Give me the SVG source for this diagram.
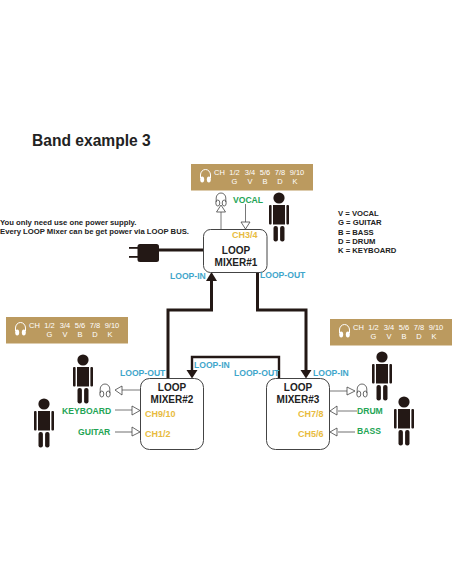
<svg xmlns="http://www.w3.org/2000/svg" width="452" height="584" viewBox="0 0 452 584">
<style>
text{font-family:"Liberation Sans",Arial,sans-serif;font-weight:700}
.panel{fill:#bb9a5f}
.pt{fill:#fff;font-size:7.5px;text-anchor:middle;font-weight:400}
.box{fill:#fff;stroke:#444;stroke-width:1}
.name{fill:#222;font-size:10px;text-anchor:middle}
.ch{fill:#e8bb40;font-size:9px}
.loop{fill:#3fa6cb;font-size:8.6px}
.inp{fill:#23a455;font-size:8.6px}
.note{fill:#222;font-size:7.7px}
.thick{fill:none;stroke:#231815;stroke-width:3}
.thin{fill:none;stroke:#555;stroke-width:.8}
.tri{fill:#fff;stroke:#444;stroke-width:.8}
.hp{fill:none;stroke:#444;stroke-width:.8}
</style>
<defs>
<g id="person" fill="#231815">
<circle cx="0" cy="0" r="5.6"/>
<rect x="-6" y="7" width="12" height="19.5"/>
<rect x="-10" y="7" width="2.6" height="19.5" rx="1"/>
<rect x="7.4" y="7" width="2.6" height="19.5" rx="1"/>
<rect x="-5.5" y="28" width="4.4" height="15.5" rx="2"/>
<rect x="1.1" y="28" width="4.4" height="15.5" rx="2"/>
</g>
<g id="phones">
<path class="hp" d="M-4.8 3V-1A4.8 5 0 0 1 4.8-1V3"/>
<ellipse class="hp" cx="-3.2" cy="4" rx="2" ry="3"/>
<ellipse class="hp" cx="3.2" cy="4" rx="2" ry="3"/>
</g>
<g id="wphones">
<path fill="none" stroke="#fff" stroke-width="1" d="M-5 2V-1A5 5.500 0 0 1 5-1V2"/>
<ellipse fill="#fff" cx="-3.300" cy="3.500" rx="2" ry="3"/>
<ellipse fill="#fff" cx="3.300" cy="3.500" rx="2" ry="3"/>
</g>
<g id="legend">
<rect class="panel" x="0" y="0" width="122" height="26.500"/>
<use href="#wphones" x="14.500" y="12"/>
<text class="pt" x="28.500" y="10.500">CH</text>
<text class="pt" x="43.500" y="10.500">1/2</text>
<text class="pt" x="59" y="10.500">3/4</text>
<text class="pt" x="74" y="10.500">5/6</text>
<text class="pt" x="89" y="10.500">7/8</text>
<text class="pt" x="106" y="10.500">9/10</text>
<text class="pt" x="43.500" y="20">G</text>
<text class="pt" x="59" y="20">V</text>
<text class="pt" x="74" y="20">B</text>
<text class="pt" x="89" y="20">D</text>
<text class="pt" x="104" y="20">K</text>
</g>
</defs>
<rect width="452" height="584" fill="#fff"/>
<text id="title" x="32" y="146" font-size="15.600" fill="#222">Band example 3</text>
<g id="note">
<text class="note" x="0" y="225">You only need use one power supply.</text>
<text class="note" x="0" y="234">Every LOOP Mixer can be get power via LOOP BUS.</text>
</g>
<g id="key">
<text class="note" x="338" y="216">V = VOCAL</text>
<text class="note" x="338" y="225">G = GUITAR</text>
<text class="note" x="338" y="234.500">B = BASS</text>
<text class="note" x="338" y="243.500">D = DRUM</text>
<text class="note" x="338" y="252.500">K = KEYBOARD</text>
</g>
<g id="legend-top"><use href="#legend" x="191" y="164"/></g>
<g id="legend-left"><use href="#legend" x="6" y="317"/></g>
<g id="legend-right"><use href="#legend" x="330" y="319"/></g>
<g id="connectors">
<path class="thick" d="M158 250H203"/>
<path class="thick" d="M211.500 310V279"/>
<path class="thick" d="M168 378V310H213"/>
<path class="thick" d="M257.500 272V310H306V371"/>
<path class="thick" style="stroke-width:2.400" d="M279 378V357H192V371"/>
<path fill="#231815" d="M206 281L211.500 272L217 281Z"/>
<path fill="#231815" d="M300.500 370H311.500L306 378.500Z"/>
<path fill="#231815" d="M186.500 370H197.500L192 378.500Z"/>
<path class="thin" d="M221 229V212"/>
<path class="thin" d="M245.500 204V222"/>
<path class="thin" d="M140 390H122"/>
<path class="thin" d="M115 410H132"/>
<path class="thick" style="stroke:#999;stroke-width:1.400" d="M115 432H132"/>
<path class="thin" d="M329 391H347"/>
<path class="thin" d="M357 411H338"/>
<path class="thick" style="stroke:#999;stroke-width:1.400" d="M355 432H338"/>
<path class="tri" d="M216.500 212L221 205L225.500 212Z"/>
<path class="tri" d="M241 222H250L245.500 229Z"/>
<path class="tri" d="M122 386L115 390L122 395Z"/>
<path class="tri" d="M132 406L140 410.500L132 415Z"/>
<path class="tri" d="M132 427L140 432L132 436Z"/>
<path class="tri" d="M347 387L355 391L347 395Z"/>
<path class="tri" d="M337 406L330 411L337 415Z"/>
<path class="tri" d="M337 428L330 432L337 436Z"/>
</g>
<g id="plug" fill="#231815">
<rect x="137.500" y="244" width="21.500" height="18" rx="2.500"/>
<rect x="129" y="247" width="9" height="1.800"/>
<rect x="129" y="256" width="9" height="1.800"/>
</g>
<g id="mixer1">
<rect class="box" x="203.500" y="229.500" width="63.500" height="43" rx="7"/>
<text class="name" x="236" y="253.500">LOOP</text>
<text class="name" x="236" y="265.500">MIXER#1</text>
<text class="ch" x="232" y="237.500">CH3/4</text>
</g>
<g id="mixer2">
<rect class="box" x="140.500" y="378.500" width="63" height="71" rx="9"/>
<text class="name" x="172" y="391">LOOP</text>
<text class="name" x="172" y="402.500">MIXER#2</text>
<text class="ch" x="145" y="417">CH9/10</text>
<text class="ch" x="145" y="437">CH1/2</text>
</g>
<g id="mixer3">
<rect class="box" x="266.500" y="378.500" width="63" height="71" rx="9"/>
<text class="name" x="298" y="391">LOOP</text>
<text class="name" x="298" y="402.500">MIXER#3</text>
<text class="ch" x="298" y="417">CH7/8</text>
<text class="ch" x="298" y="437">CH5/6</text>
</g>
<g id="labels">
<text class="loop" x="170" y="279">LOOP-IN</text>
<text class="loop" x="260" y="278">LOOP-OUT</text>
<text class="loop" x="120" y="376">LOOP-OUT</text>
<text class="loop" x="194" y="368">LOOP-IN</text>
<text class="loop" x="234" y="376">LOOP-OUT</text>
<text class="loop" x="313" y="376">LOOP-IN</text>
<text class="inp" x="233" y="203">VOCAL</text>
<text class="inp" x="62" y="414">KEYBOARD</text>
<text class="inp" x="78" y="435">GUITAR</text>
<text class="inp" x="357" y="414">DRUM</text>
<text class="inp" x="357" y="434">BASS</text>
</g>
<g id="headphones">
<use href="#phones" x="221" y="199"/>
<use href="#phones" x="105" y="390"/>
<use href="#phones" x="362" y="390"/>
</g>
<g id="people">
<use href="#person" x="279" y="198"/>
<use href="#person" x="83" y="360"/>
<use href="#person" x="44" y="404"/>
<use href="#person" x="382" y="357"/>
<use href="#person" x="404" y="402"/>
</g>
</svg>
